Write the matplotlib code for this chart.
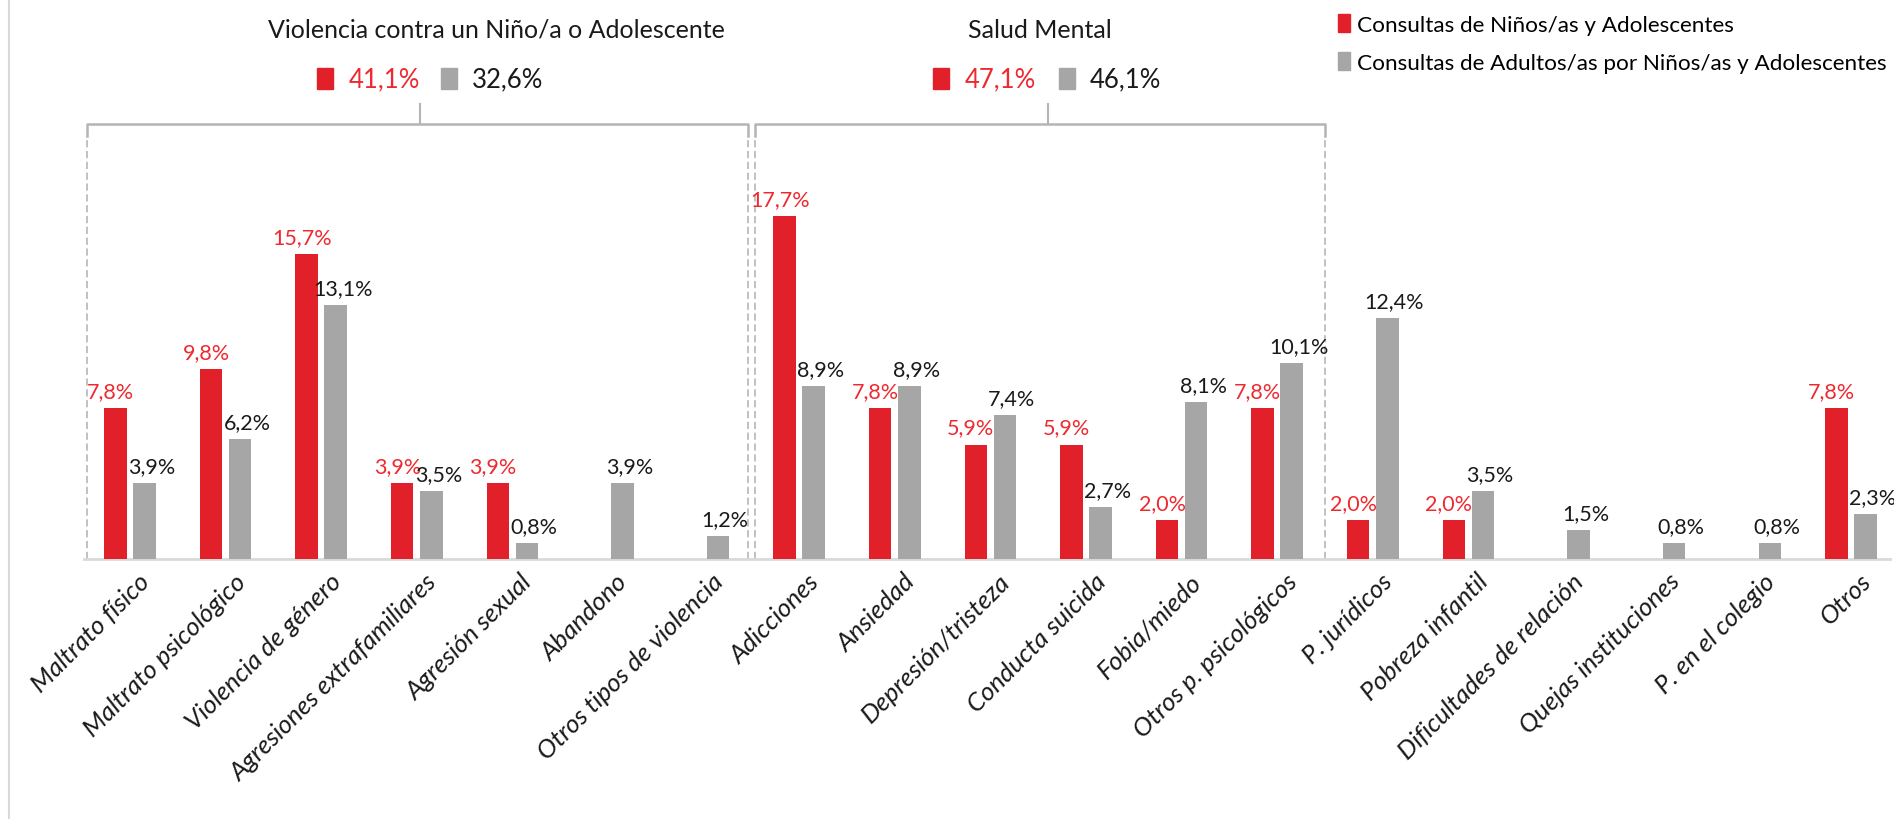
import numpy as np
import matplotlib
matplotlib.use("Agg")
import matplotlib.pyplot as plt
from matplotlib.patches import Patch, Rectangle

# data (percent)
categories = ["Maltrato físico", "Maltrato psicológico", "Violencia de género",
              "Agresiones extrafamiliares", "Agresión sexual", "Abandono",
              "Otros tipos de violencia", "Adicciones", "Ansiedad",
              "Depresión/tristeza", "Conducta suicida", "Fobia/miedo",
              "Otros p. psicológicos", "P. jurídicos", "Pobreza infantil",
              "Dificultades de relación", "Quejas instituciones",
              "P. en el colegio", "Otros"]
ninos = [7.8, 9.8, 15.7, 3.9, 3.9, None, None, 17.7, 7.8, 5.9, 5.9, 2.0,
         7.8, 2.0, 2.0, None, None, None, 7.8]
adultos = [3.9, 6.2, 13.1, 3.5, 0.8, 3.9, 1.2, 8.9, 8.9, 7.4, 2.7, 8.1,
           10.1, 12.4, 3.5, 1.5, 0.8, 0.8, 2.3]

series_names = ["Consultas de Niños/as y Adolescentes",
                "Consultas de Adultos/as por Niños/as y Adolescentes"]
group_titles = ["Violencia contra un Niño/a o Adolescente", "Salud Mental"]
group_ninos = ["41,1%", "47,1%"]
group_adultos = ["32,6%", "46,1%"]

RED = "#e2202a"
RED_TXT = "#ee2a30"
GREY = "#a6a6a6"
LINE = "#b4b4b4"
FONT = "Lato"

W, H = 1894, 820


def fx(px):
    return px / W


def fy(py):
    return 1 - py / H


def pct(v):
    return f"{v:.1f}".replace(".", ",") + "%"


plt.rcParams["font.family"] = [FONT, "DejaVu Sans"]

fig = plt.figure(figsize=(W / 100, H / 100), dpi=100)
ax = fig.add_axes([fx(84), fy(560), fx(1890 - 84), 560 / H])
ax.set_xlim(-0.481, 18.41)
ax.set_ylim(0, 560 / 19.4)

x = np.arange(len(categories))
bw = 0.235
off = 0.152
red_vals = np.array([np.nan if v is None else v for v in ninos])
ax.bar(x - off, red_vals, bw, color=RED, zorder=3)
ax.bar(x + off, adultos, bw, color=GREY, zorder=3)

for i, v in enumerate(ninos):
    if v is None:
        continue
    ax.annotate(pct(v), (x[i] - off, v), xytext=(-5, 11), textcoords="offset pixels",
                ha="center", va="baseline", color=RED_TXT, fontsize=15.5)
for i, v in enumerate(adultos):
    ax.annotate(pct(v), (x[i] + off, v), xytext=(7, 11), textcoords="offset pixels",
                ha="center", va="baseline", color="#1a1a1a", fontsize=15.5)

# category labels, rotated
ax.set_xticks([])
ax.set_yticks([])
for i, c in enumerate(categories):
    ax.annotate(c, (x[i], 0), xytext=(8, -10), textcoords="offset pixels",
                ha="right", va="top", rotation=45, rotation_mode="anchor",
                fontsize=18.5, fontstyle="italic",
                color="#1a1a1a", annotation_clip=False)

for s in ["top", "left", "right"]:
    ax.spines[s].set_visible(False)
ax.spines["bottom"].set_color("#d9d9d9")
ax.spines["bottom"].set_linewidth(2)

# group brackets
yb = (560 - 125) / 19.4
ytop = (560 - 105) / 19.4
brackets = [(-0.45, 6.46, 3.03), (6.54, 12.5, 9.6)]
for a, b, m in brackets:
    ax.plot([a, a, b, b], [yb - 0.6, yb, yb, yb - 0.6], color=LINE, lw=1.8,
            clip_on=False, zorder=2, solid_joinstyle="round")
    ax.plot([m, m], [yb, ytop], color=LINE, lw=1.5, clip_on=False)
for xd in [-0.45, 6.46, 6.54, 12.5]:
    ax.plot([xd, xd], [0, yb - 0.6], color="#bcbcbc", lw=1.3, ls=(0, (4, 2)),
            clip_on=False, zorder=1)

# group headers
title_cx = [496, 1040]
sq_red = [317, 933]
sq_grey = [441, 1059]
for k in range(2):
    fig.text(fx(title_cx[k]), fy(30), group_titles[k], ha="center", va="center",
             fontsize=18, color="#1a1a1a")
    fig.patches.append(Rectangle((fx(sq_red[k]), fy(90)), fx(16), 21 / H,
                                 transform=fig.transFigure, color=RED))
    fig.patches.append(Rectangle((fx(sq_grey[k]), fy(90)), fx(16), 21 / H,
                                 transform=fig.transFigure, color=GREY))
    fig.text(fx(sq_red[k] + 32), fy(80), group_ninos[k], ha="left", va="center",
             fontsize=18.5, color=RED_TXT)
    fig.text(fx(sq_grey[k] + 31), fy(80), group_adultos[k], ha="left", va="center",
             fontsize=18.5, color="#1a1a1a")

handles = [Patch(color=RED), Patch(color=GREY)]
fig.legend(handles, series_names, loc="upper left", bbox_to_anchor=(fx(1318), fy(-5)),
           frameon=False, fontsize=16.2, handlelength=0.5, handleheight=0.85,
           handletextpad=0.35, labelspacing=0.77)

# thin frame line on the left edge
fig.add_artist(plt.Line2D([fx(9), fx(9)], [0, 1], color="#d9d9d9", lw=1.5))

fig.savefig("out.png", dpi=100, facecolor="white")
